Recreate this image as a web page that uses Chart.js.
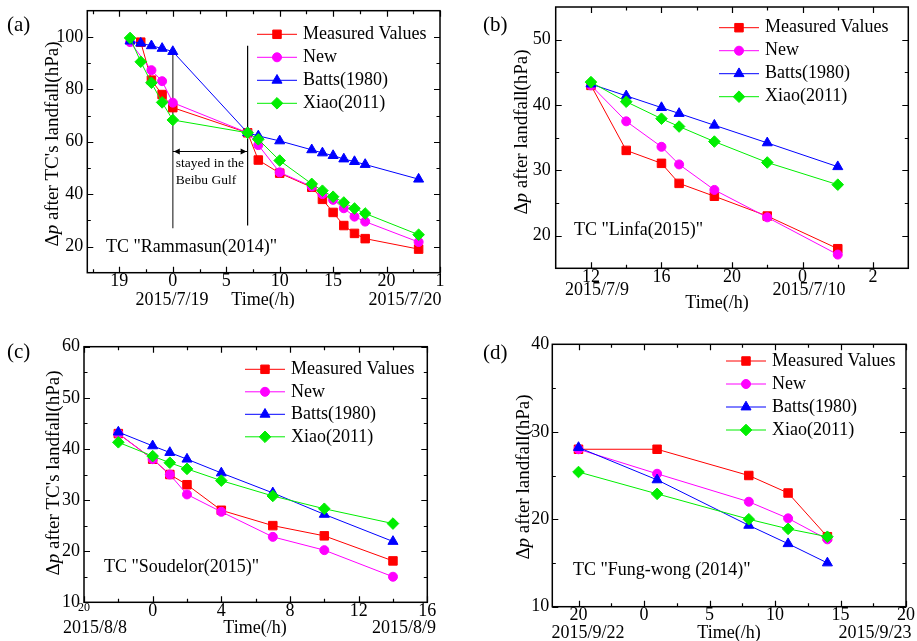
<!DOCTYPE html>
<html>
<head>
<meta charset="utf-8">
<title>Δp after landfall</title>
<script src="https://cdn.jsdelivr.net/npm/chart.js@4.4.1/dist/chart.umd.min.js"></script>
<style>
  html, body { margin: 0; padding: 0; background: #fff; }
  #fig { position: relative; width: 917px; height: 641px; overflow: hidden; }
  #fig canvas { position: absolute; left: 0; top: 0; }
</style>
</head>
<body>
<div id="fig">
  <canvas id="chart-a" width="917" height="641"></canvas>
  <canvas id="chart-b" width="917" height="641"></canvas>
  <canvas id="chart-c" width="917" height="641"></canvas>
  <canvas id="chart-d" width="917" height="641"></canvas>
</div>
<script>
var seriesNames = ['Measured Values', 'New', 'Batts(1980)', 'Xiao(2011)'];

// (a) Rammasun(2014), hours from 2015/7/19 0:00
var hoursA    = [-4, -3, -2, -1, 0, 7, 8, 10, 13, 14, 15, 16, 17, 18, 23];
var measuredA = [null, 98, 83.5, 78, 73, 63.4, 53, 48, 42.6, 38, 33, 28, 25, 23, 19];
var newA      = [98, null, 87.3, 83.1, 74.9, 63.4, 58.7, 48.3, 42.9, 40, 37.8, 34.6, 31.4, 29.5, 21.7];
var battsA    = [98.4, 97.6, 96.6, 95.6, 94.4, 63.4, 62.2, 60.3, 56.9, 55.7, 54.7, 53.4, 52.4, 51.3, 45.7];
var xiaoA     = [99.6, 90.5, 82.5, 75, 68.3, 63.4, 60.9, 52.8, 43.9, 41.3, 39, 36.8, 34.5, 32.6, 24.5];
var xTicksA   = [-5, 0, 5, 10, 15, 20, 25];
var xLabelsA  = ['19', '0', '5', '10', '15', '20', '1'];
var yTicksA   = [20, 40, 60, 80, 100];
var gulfHours = [0, 7];

// (b) Linfa(2015), hours from 2015/7/9 0:00
var hoursB    = [12, 14, 16, 17, 19, 22, 26];
var measuredB = [43, 33.05, 31.07, 28, 26.03, 23, 18];
var newB      = [43, 37.5, 33.6, 30.9, 27, 22.8, 17.1];
var battsB    = [43.2, 41.4, 39.6, 38.7, 36.9, 34.2, 30.55];
var xiaoB     = [43.5, 40.5, 37.9, 36.7, 34.4, 31.2, 27.8];
var xTicksB   = [12, 16, 20, 24, 28];
var xLabelsB  = ['12', '16', '20', '0', '2'];
var yTicksB   = [20, 30, 40, 50];

// (c) Soudelor(2015), hours from 2015/8/8 0:00
var hoursC    = [-2, 0, 1, 2, 4, 7, 10, 14];
var measuredC = [43, 38, 35, 33, 28, 25, 23, 18.1];
var newC      = [43, 38, 35, 31.1, 27.7, 22.8, 20.2, 15];
var battsC    = [43.3, 40.6, 39.3, 38, 35.3, 31.4, 27.2, 21.9];
var xiaoC     = [41.3, 38.6, 37.3, 36.1, 33.8, 30.8, 28.3, 25.4];
var xTicksC   = [-4, 0, 4, 8, 12, 16];
var xLabelsC  = ['20', '0', '4', '8', '12', '16'];
var yTicksC   = [10, 20, 30, 40, 50, 60];

// (d) Fung-wong(2014), hours from 2015/9/23 0:00
var hoursD    = [-5, 1, 8, 11, 14];
var measuredD = [28, 28, 25, 23, 18];
var newD      = [28, 25.2, 22, 20.1, 17.7];
var battsD    = [28.2, 24.5, 19.3, 17.2, 15];
var xiaoD     = [25.4, 22.9, 20, 18.9, 18];
var xTicksD   = [-5, 0, 5, 10, 15, 20];
var xLabelsD  = ['20', '0', '5', '10', '15', '20'];
var yTicksD   = [10, 20, 30, 40];

var FONT = '"Liberation Serif", "Times New Roman", serif';
var colors = ['#ff0000', '#ff00ff', '#0000ff', '#00ee00'];
var markers = ['rect', 'circle', 'triangle', 'rectRot'];
var radii = [6, 4.5, 5.8, 5.8];

function font(size, style) {
  return (style || '') + ' ' + size + 'px ' + FONT;
}

function drawMarker(ctx, style, r, x, y) {
  if (Chart.helpers && Chart.helpers.drawPoint) {
    Chart.helpers.drawPoint(ctx, { pointStyle: style, radius: r, rotation: 0, borderWidth: 1 }, x, y);
    return;
  }
  ctx.beginPath();
  if (style === 'circle') ctx.arc(x, y, r, 0, Math.PI * 2);
  else if (style === 'rect') { var s = r * Math.SQRT1_2; ctx.rect(x - s, y - s, 2 * s, 2 * s); }
  else if (style === 'triangle') {
    ctx.moveTo(x, y - r); ctx.lineTo(x + r * 0.866, y + r / 2); ctx.lineTo(x - r * 0.866, y + r / 2);
  } else { ctx.moveTo(x, y - r); ctx.lineTo(x + r, y); ctx.lineTo(x, y + r); ctx.lineTo(x - r, y); }
  ctx.closePath(); ctx.fill(); ctx.stroke();
}

// rotated axis title with an italic "p"
function drawYTitle(ctx, cx, cy, rest) {
  var parts = [['Δ', font(19)], ['p', font(19, 'italic')], [rest, font(19)]];
  var total = 0;
  parts.forEach(function (pt) { ctx.font = pt[1]; total += ctx.measureText(pt[0]).width; });
  ctx.save();
  ctx.translate(cx, cy);
  ctx.rotate(-Math.PI / 2);
  ctx.fillStyle = '#000';
  ctx.textAlign = 'left';
  ctx.textBaseline = 'middle';
  var x = -total / 2;
  parts.forEach(function (pt) {
    ctx.font = pt[1];
    ctx.fillText(pt[0], x, 0);
    x += ctx.measureText(pt[0]).width;
  });
  ctx.restore();
}

function decor(p) {
  return {
    id: 'decor',
    beforeDatasetsDraw: function (chart) {
      var ctx = chart.ctx, a = chart.chartArea;
      var xs = chart.scales.x, ys = chart.scales.y;
      ctx.save();
      ctx.strokeStyle = '#000';
      ctx.lineWidth = 1.2;
      ctx.beginPath();
      [[p.xTicks, 6], [p.xMinor, 3.5]].forEach(function (set) {
        set[0].forEach(function (v) {
          var px = Math.round(xs.getPixelForValue(v)) + 0.5;
          ctx.moveTo(px, a.bottom); ctx.lineTo(px, a.bottom - set[1]);
          ctx.moveTo(px, a.top); ctx.lineTo(px, a.top + set[1]);
        });
      });
      [[p.yTicks, 6], [p.yMinor, 3.5]].forEach(function (set) {
        set[0].forEach(function (v) {
          var py = Math.round(ys.getPixelForValue(v)) + 0.5;
          ctx.moveTo(a.left, py); ctx.lineTo(a.left + set[1], py);
          ctx.moveTo(a.right, py); ctx.lineTo(a.right - set[1], py);
        });
      });
      ctx.stroke();
      ctx.lineWidth = 1.5;
      ctx.strokeRect(a.left, a.top, a.right - a.left, a.bottom - a.top);
      if (p.extra) p.extra(chart, ctx);
      ctx.restore();
    },
    afterDraw: function (chart) {
      var ctx = chart.ctx;
      ctx.save();
      ctx.fillStyle = '#000';
      ctx.textBaseline = 'middle';

      // panel letter
      ctx.font = font(21);
      ctx.textAlign = 'left';
      ctx.fillText(p.letter[0], p.letter[1], p.letter[2]);

      // storm name
      ctx.font = font(18);
      ctx.fillText(p.storm[0], p.storm[1], p.storm[2]);

      // dates and time label under the x axis
      ctx.textAlign = 'center';
      p.under.forEach(function (t) { ctx.fillText(t[0], t[1], t[2]); });

      drawYTitle(ctx, p.yTitle[1], p.yTitle[2], p.yTitle[0]);

      // legend: line with marker in the middle
      var lg = p.legend;
      seriesNames.forEach(function (name, k) {
        var x = lg[0], y = lg[1] + k * lg[2];
        ctx.strokeStyle = colors[k];
        ctx.fillStyle = colors[k];
        ctx.lineWidth = 1;
        ctx.beginPath();
        ctx.moveTo(x - 20, y); ctx.lineTo(x + 20, y);
        ctx.stroke();
        drawMarker(ctx, markers[k], radii[k], x, y);
        ctx.fillStyle = '#000';
        ctx.font = font(18);
        ctx.textAlign = 'left';
        ctx.fillText(name, x + 26, y);
      });
      ctx.restore();
    }
  };
}

function makePanel(id, p) {
  var datasets = p.values.map(function (vals, k) {
    return {
      label: seriesNames[k],
      data: p.hours.map(function (h, i) { return { x: h, y: vals[i] }; }),
      borderColor: colors[k],
      backgroundColor: colors[k],
      borderWidth: 1,
      pointStyle: markers[k],
      pointRadius: radii[k],
      pointBorderWidth: 1,
      spanGaps: true,
      tension: 0,
      order: 3 - k
    };
  });
  var box = p.area;
  new Chart(document.getElementById(id), {
    type: 'line',
    data: { datasets: datasets },
    options: {
      responsive: false,
      animation: false,
      events: [],
      layout: { padding: { left: box[0] - 40, top: box[1], right: 917 - box[2], bottom: 641 - box[3] - 20 } },
      scales: {
        x: {
          type: 'linear', min: p.xRange[0], max: p.xRange[1],
          grid: { display: false, drawTicks: false },
          border: { display: false },
          afterBuildTicks: function (s) { s.ticks = p.xTicks.map(function (v) { return { value: v }; }); },
          afterFit: function (s) { s.height = 20; s.paddingLeft = 0; s.paddingRight = 0; },
          ticks: {
            autoSkip: false, maxRotation: 0, padding: 0, color: '#000',
            font: function (c) {
              var small = p.smallTick !== undefined && c.tick && c.tick.value === p.smallTick;
              return { family: FONT, size: small ? 12 : 18, lineHeight: 1 };
            },
            callback: function (v) { return p.xLabels[p.xTicks.indexOf(v)]; }
          }
        },
        y: {
          min: p.yRange[0], max: p.yRange[1],
          grid: { display: false, drawTicks: false },
          border: { display: false },
          afterBuildTicks: function (s) { s.ticks = p.yTicks.map(function (v) { return { value: v }; }); },
          afterFit: function (s) { s.width = 40; s.paddingTop = 0; s.paddingBottom = 0; },
          ticks: { padding: p.yPad, color: '#000', font: { family: FONT, size: 18, lineHeight: 1 } }
        }
      },
      plugins: { legend: { display: false }, tooltip: { enabled: false } }
    },
    plugins: [decor(p)]
  });
}

makePanel('chart-a', {
  hours: hoursA, values: [measuredA, newA, battsA, xiaoA],
  area: [87.3, 10.7, 440, 272.7], xRange: [-8, 25], yRange: [10, 110],
  xTicks: xTicksA, xLabels: xLabelsA, xMinor: [-7.5, -2.5, 2.5, 7.5, 12.5, 17.5, 22.5],
  yTicks: yTicksA, yMinor: [30, 50, 70, 90], yPad: 4,
  letter: ['(a)', 7, 25],
  storm: ['TC "Rammasun(2014)"', 106, 247],
  under: [['2015/7/19', 172, 300], ['Time(/h)', 263, 300], ['2015/7/20', 405, 300]],
  yTitle: [" after TC's landfall(hPa)", 53, 144],
  legend: [277, 34.3, 23],
  extra: function (chart, ctx) {
    var xs = chart.scales.x, ys = chart.scales.y;
    var x0 = xs.getPixelForValue(gulfHours[0]), x1 = xs.getPixelForValue(gulfHours[1]);
    ctx.lineWidth = 1.6;
    ctx.strokeStyle = '#666';
    ctx.beginPath();
    ctx.moveTo(x0, ys.getPixelForValue(95)); ctx.lineTo(x0, ys.getPixelForValue(27));
    ctx.stroke();
    ctx.lineWidth = 1.2;
    ctx.strokeStyle = '#000';
    ctx.beginPath();
    ctx.moveTo(x1, ys.getPixelForValue(96.6)); ctx.lineTo(x1, ys.getPixelForValue(28));
    var ya = Math.round(ys.getPixelForValue(56.6)) + 0.5;
    ctx.moveTo(x0, ya); ctx.lineTo(x1, ya);
    ctx.stroke();
    ctx.fillStyle = '#000';
    ctx.beginPath();
    ctx.moveTo(x0 + 1, ya); ctx.lineTo(x0 + 7, ya - 3); ctx.lineTo(x0 + 7, ya + 3); ctx.closePath();
    ctx.moveTo(x1 - 1, ya); ctx.lineTo(x1 - 7, ya - 3); ctx.lineTo(x1 - 7, ya + 3); ctx.closePath();
    ctx.fill();
    ctx.font = font(13.5);
    ctx.textAlign = 'left';
    ctx.textBaseline = 'middle';
    ctx.fillText('stayed in the', x0 + 3, ya + 12);
    ctx.fillText('Beibu Gulf', x0 + 3, ya + 28.5);
  }
});

makePanel('chart-b', {
  hours: hoursB, values: [measuredB, newB, battsB, xiaoB],
  area: [555.7, 5.7, 908.3, 268.3], xRange: [10, 30], yRange: [15, 55],
  xTicks: xTicksB, xLabels: xLabelsB, xMinor: [14, 18, 22, 26],
  yTicks: yTicksB, yMinor: [25, 35, 45], yPad: 5,
  letter: ['(b)', 483, 25],
  storm: ['TC "Linfa(2015)"', 574, 230],
  under: [['2015/7/9', 597, 290], ['2015/7/10', 809, 290], ['Time(/h)', 717, 303]],
  yTitle: [' after landfall(hPa)', 522, 132],
  legend: [739, 27.7, 23]
});

makePanel('chart-c', {
  hours: hoursC, values: [measuredC, newC, battsC, xiaoC],
  area: [84, 346.7, 427.3, 602.3], xRange: [-4, 16], yRange: [10, 60],
  xTicks: xTicksC, xLabels: xLabelsC, xMinor: [-2, 2, 6, 10, 14], smallTick: -4,
  yTicks: yTicksC, yMinor: [15, 25, 35, 45, 55], yPad: 4,
  letter: ['(c)', 7, 352],
  storm: ['TC "Soudelor(2015)"', 104, 567],
  under: [['2015/8/8', 95, 628], ['Time(/h)', 255, 628], ['2015/8/9', 404, 628]],
  yTitle: [" after TC's landfall(hPa)", 54, 473],
  legend: [265, 369.3, 22.5]
});

makePanel('chart-d', {
  hours: hoursD, values: [measuredD, newD, battsD, xiaoD],
  area: [552.3, 344.3, 906, 606.7], xRange: [-7, 20], yRange: [10, 40],
  xTicks: xTicksD, xLabels: xLabelsD, xMinor: [-2.5, 2.5, 7.5, 12.5, 17.5],
  yTicks: yTicksD, yMinor: [15, 25, 35], yPad: 3,
  letter: ['(d)', 483, 353],
  storm: ['TC "Fung-wong (2014)"', 573, 570],
  under: [['2015/9/22', 588, 633], ['Time(/h)', 729, 633], ['2015/9/23', 875, 633]],
  yTitle: [' after landfall(hPa)', 524, 477],
  legend: [746, 361, 23]
});
</script>
</body>
</html>
